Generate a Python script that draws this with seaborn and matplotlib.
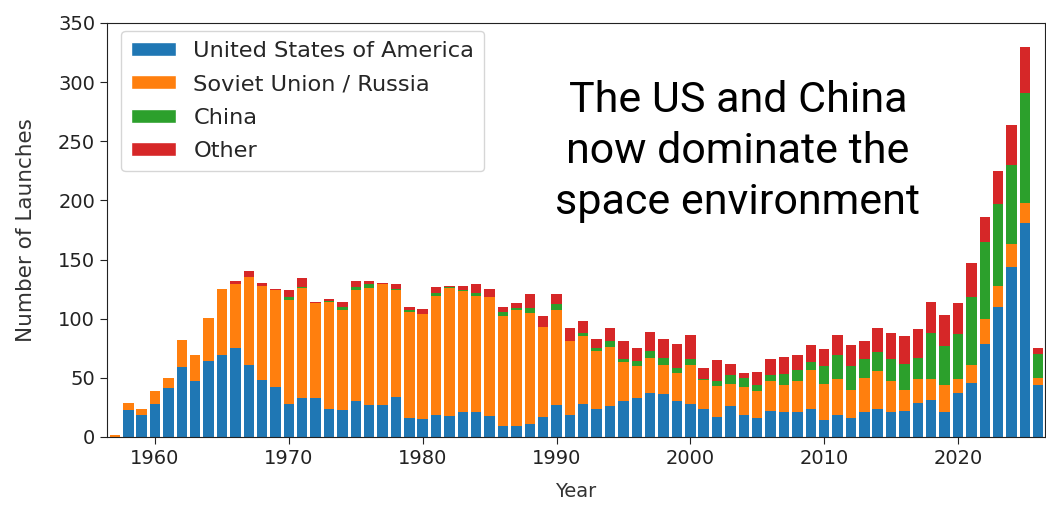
import numpy as np
import pandas as pd
import matplotlib
matplotlib.use("Agg")
import matplotlib.pyplot as plt
from matplotlib.patches import Patch
import seaborn as sns

years = list(range(1957, 2027))

usa = [0, 23, 19, 28, 41, 59, 47, 64, 69, 75, 61, 48, 42,
       28, 33, 33, 24, 23, 30, 27, 27, 34, 16,
       15, 19, 18, 21, 21, 18, 9, 9, 11, 17,
       27, 19, 28, 24, 26, 30, 33, 37, 36, 30,
       28, 24, 17, 26, 19, 16, 22, 21, 21, 24,
       14, 19, 16, 21, 24, 21, 22, 29, 31, 21,
       37, 46, 79, 110, 144, 181, 44]

russia = [2, 6, 5, 11, 9, 23, 22, 37, 56, 54, 74, 80, 82,
          88, 93, 80, 90, 84, 94, 99, 102, 90, 90,
          89, 100, 108, 102, 98, 100, 93, 98, 94, 76,
          80, 62, 57, 49, 50, 33, 27, 30, 25, 24,
          33, 24, 26, 19, 23, 23, 25, 23, 26, 33,
          31, 30, 24, 29, 32, 26, 18, 20, 18, 23,
          12, 15, 21, 18, 19, 17, 6]

china = [0, 0, 0, 0, 0, 0, 0, 0, 0, 0, 0, 0, 0,
         2, 1, 0, 1, 3, 3, 3, 0, 1, 1,
         0, 3, 1, 1, 3, 0, 4, 2, 4, 0,
         5, 0, 3, 2, 5, 3, 4, 6, 6, 4,
         5, 1, 4, 7, 8, 5, 5, 9, 10, 6,
         15, 20, 20, 16, 16, 19, 22, 18, 39, 33,
         38, 57, 65, 69, 67, 93, 20]

other = [0, 0, 0, 0, 0, 0, 0, 0, 0, 3, 5, 2, 1,
         6, 7, 1, 2, 4, 5, 3, 1, 4, 3,
         4, 5, 1, 4, 7, 7, 4, 4, 12, 9,
         9, 11, 10, 8, 11, 15, 11, 16, 16, 21,
         20, 9, 18, 10, 4, 11, 14, 15, 12, 15,
         14, 17, 18, 15, 20, 22, 23, 24, 26, 26,
         26, 29, 21, 28, 34, 39, 5]

groups = ["United States of America", "Soviet Union / Russia", "China", "Other"]
series = [usa, russia, china, other]

colors = dict(zip(groups, sns.color_palette("tab10", 4)))

df = pd.DataFrame(
    [(y, g, v) for g, vals in zip(groups, series) for y, v in zip(years, vals)],
    columns=["Year", "Group", "Launches"],
)

sns.set_style("ticks")
plt.rcParams["font.family"] = ["DejaVu Sans"]

fig = plt.figure(figsize=(10.46, 5.05), dpi=100)
ax = fig.add_axes([0.1023, 0.1347, 0.8967, 0.8198])

# seaborn stacks later hue levels underneath, so pass the order reversed
sns.histplot(
    data=df, x="Year", weights="Launches", hue="Group",
    hue_order=groups[::-1], palette=colors,
    multiple="stack", discrete=True, shrink=0.78,
    alpha=1, linewidth=0, legend=False, ax=ax,
)

ax.set_xlim(1956.41, 2026.5)
ax.set_ylim(0, 350)
ax.set_xticks(range(1960, 2021, 10))
ax.set_yticks(range(0, 351, 50))
ax.tick_params(labelsize=14, colors="#222222", length=5)
ax.set_xlabel("Year", fontsize=14, color="#333333", labelpad=10)
ax.set_ylabel("Number of Launches", fontsize=15.5, color="#333333", labelpad=16)
for s in ax.spines.values():
    s.set_visible(True)
    s.set_color("#222222")

handles = [Patch(facecolor=colors[g], label=g) for g in groups]
ax.legend(handles=handles, loc="upper left", fontsize=16.2, frameon=True,
          handlelength=2.0, handleheight=0.6, borderpad=0.45,
          labelspacing=0.6, handletextpad=0.75, borderaxespad=0.3,
          fancybox=True, bbox_to_anchor=(0.008, 0.998))

fig.text(0.7055, 0.70,
         "The US and China\nnow dominate the\nspace environment",
         ha="center", va="center", fontsize=31, family="Roboto",
         linespacing=1.3, color="black")

fig.savefig("out.png", dpi=100, facecolor="white")
